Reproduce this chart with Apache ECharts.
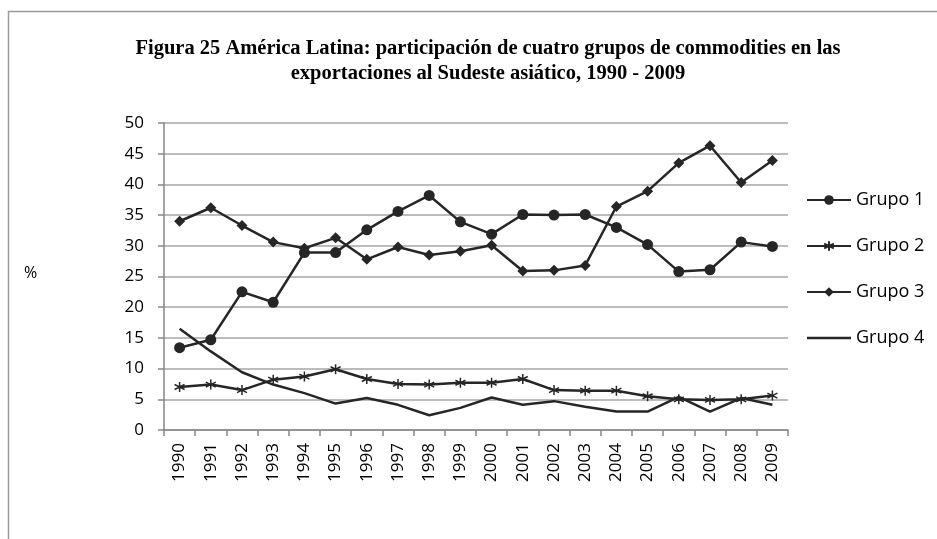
<!DOCTYPE html>
<html>
<head>
<meta charset="utf-8">
<script src="https://cdn.jsdelivr.net/npm/echarts@6/dist/echarts.min.js"></script>
<style>
  html, body { margin: 0; padding: 0; background: #fff; }
  #chart { width: 937px; height: 539px; }
</style>
</head>
<body>
<div id="chart"></div>
<script>
var years = ["1990","1991","1992","1993","1994","1995","1996","1997","1998","1999",
             "2000","2001","2002","2003","2004","2005","2006","2007","2008","2009"];
var grupo1 = [13.4,14.7,22.5,20.8,28.9,28.9,32.6,35.6,38.2,33.9,31.9,35.1,35.0,35.1,33.0,30.2,25.8,26.1,30.6,29.9];
var grupo2 = [7.0,7.4,6.5,8.2,8.7,9.9,8.3,7.5,7.4,7.7,7.7,8.3,6.5,6.4,6.4,5.5,5.0,4.9,5.0,5.6];
var grupo3 = [34.0,36.2,33.3,30.6,29.6,31.3,27.8,29.8,28.5,29.1,30.1,25.9,26.0,26.8,36.4,38.9,43.5,46.3,40.3,43.9];
var grupo4 = [16.5,12.8,9.4,7.4,6.0,4.3,5.2,4.1,2.4,3.6,5.3,4.1,4.7,3.8,3.0,3.0,5.4,3.0,5.2,4.1];

var ink = "#262626";
var asterisk = "path://M0,-5L0,5M-4.3,-2.5L4.3,2.5M-4.3,2.5L4.3,-2.5";
var sans = "Open Sans";

var chart = echarts.init(document.getElementById("chart"));

function serie(name, data, symbol, size, extra) {
  var s = {
    name: name,
    type: "line",
    data: data,
    symbol: symbol,
    symbolSize: size,
    showAllSymbol: true,
    animation: false,
    lineStyle: { color: ink, width: 2.5 },
    itemStyle: { color: ink }
  };
  if (extra) Object.assign(s, extra);
  return s;
}

chart.setOption({
  backgroundColor: "#fff",
  title: {
    text: "Figura 25 América Latina: participación de cuatro grupos de commodities en las\nexportaciones al Sudeste asiático, 1990 - 2009",
    left: 483,
    top: 31,
    textAlign: "center",
    textStyle: {
      fontFamily: "Liberation Serif",
      fontWeight: "bold",
      fontSize: 20.5,
      lineHeight: 25,
      color: "#000"
    }
  },
  graphic: [
    {
      type: "rect",
      shape: { x: 8.5, y: 11.5, width: 2000, height: 2000 },
      style: { fill: "none", stroke: "#9a9a9a", lineWidth: 1.5 }
    },
    {
      type: "text",
      left: 24,
      top: 265,
      style: { text: "%", font: "16px 'Open Sans'", fill: "#000" }
    }
  ],
  legend: {
    orient: "vertical",
    left: 806,
    top: 191,
    padding: 0,
    itemWidth: 44,
    itemHeight: 12,
    itemGap: 28,
    textStyle: { fontFamily: sans, fontSize: 18, color: "#000" },
    data: [
      "Grupo 1",
      "Grupo 2",
      "Grupo 3",
      { name: "Grupo 4", icon: "path://M0,0H44V2.5H0Z", itemStyle: { color: ink } }
    ]
  },
  grid: { left: 164, right: 149, top: 123, bottom: 109 },
  xAxis: {
    type: "category",
    data: years,
    boundaryGap: true,
    axisLine: { lineStyle: { color: "#868686", width: 1.5 } },
    axisTick: { show: true, length: 6, alignWithLabel: false, lineStyle: { color: "#868686", width: 1.5 } },
    axisLabel: {
      rotate: 90,
      interval: 0,
      margin: 13,
      fontFamily: sans,
      fontSize: 17,
      color: "#000"
    }
  },
  yAxis: {
    type: "value",
    min: 0,
    max: 50,
    interval: 5,
    axisLine: { show: true, lineStyle: { color: "#868686", width: 1.5 } },
    axisTick: { show: true, length: 6, lineStyle: { color: "#868686", width: 1.5 } },
    axisLabel: { margin: 20, fontFamily: sans, fontSize: 17, color: "#000" },
    splitLine: { lineStyle: { color: "#a6a6a6", width: 1.5 } }
  },
  series: [
    serie("Grupo 1", grupo1, "circle", 11),
    serie("Grupo 2", grupo2, asterisk, 10, {
      itemStyle: { color: ink, borderColor: ink, borderWidth: 1.5 }
    }),
    serie("Grupo 3", grupo3, "diamond", 11),
    serie("Grupo 4", grupo4, "none", 0)
  ]
});
</script>
</body>
</html>
